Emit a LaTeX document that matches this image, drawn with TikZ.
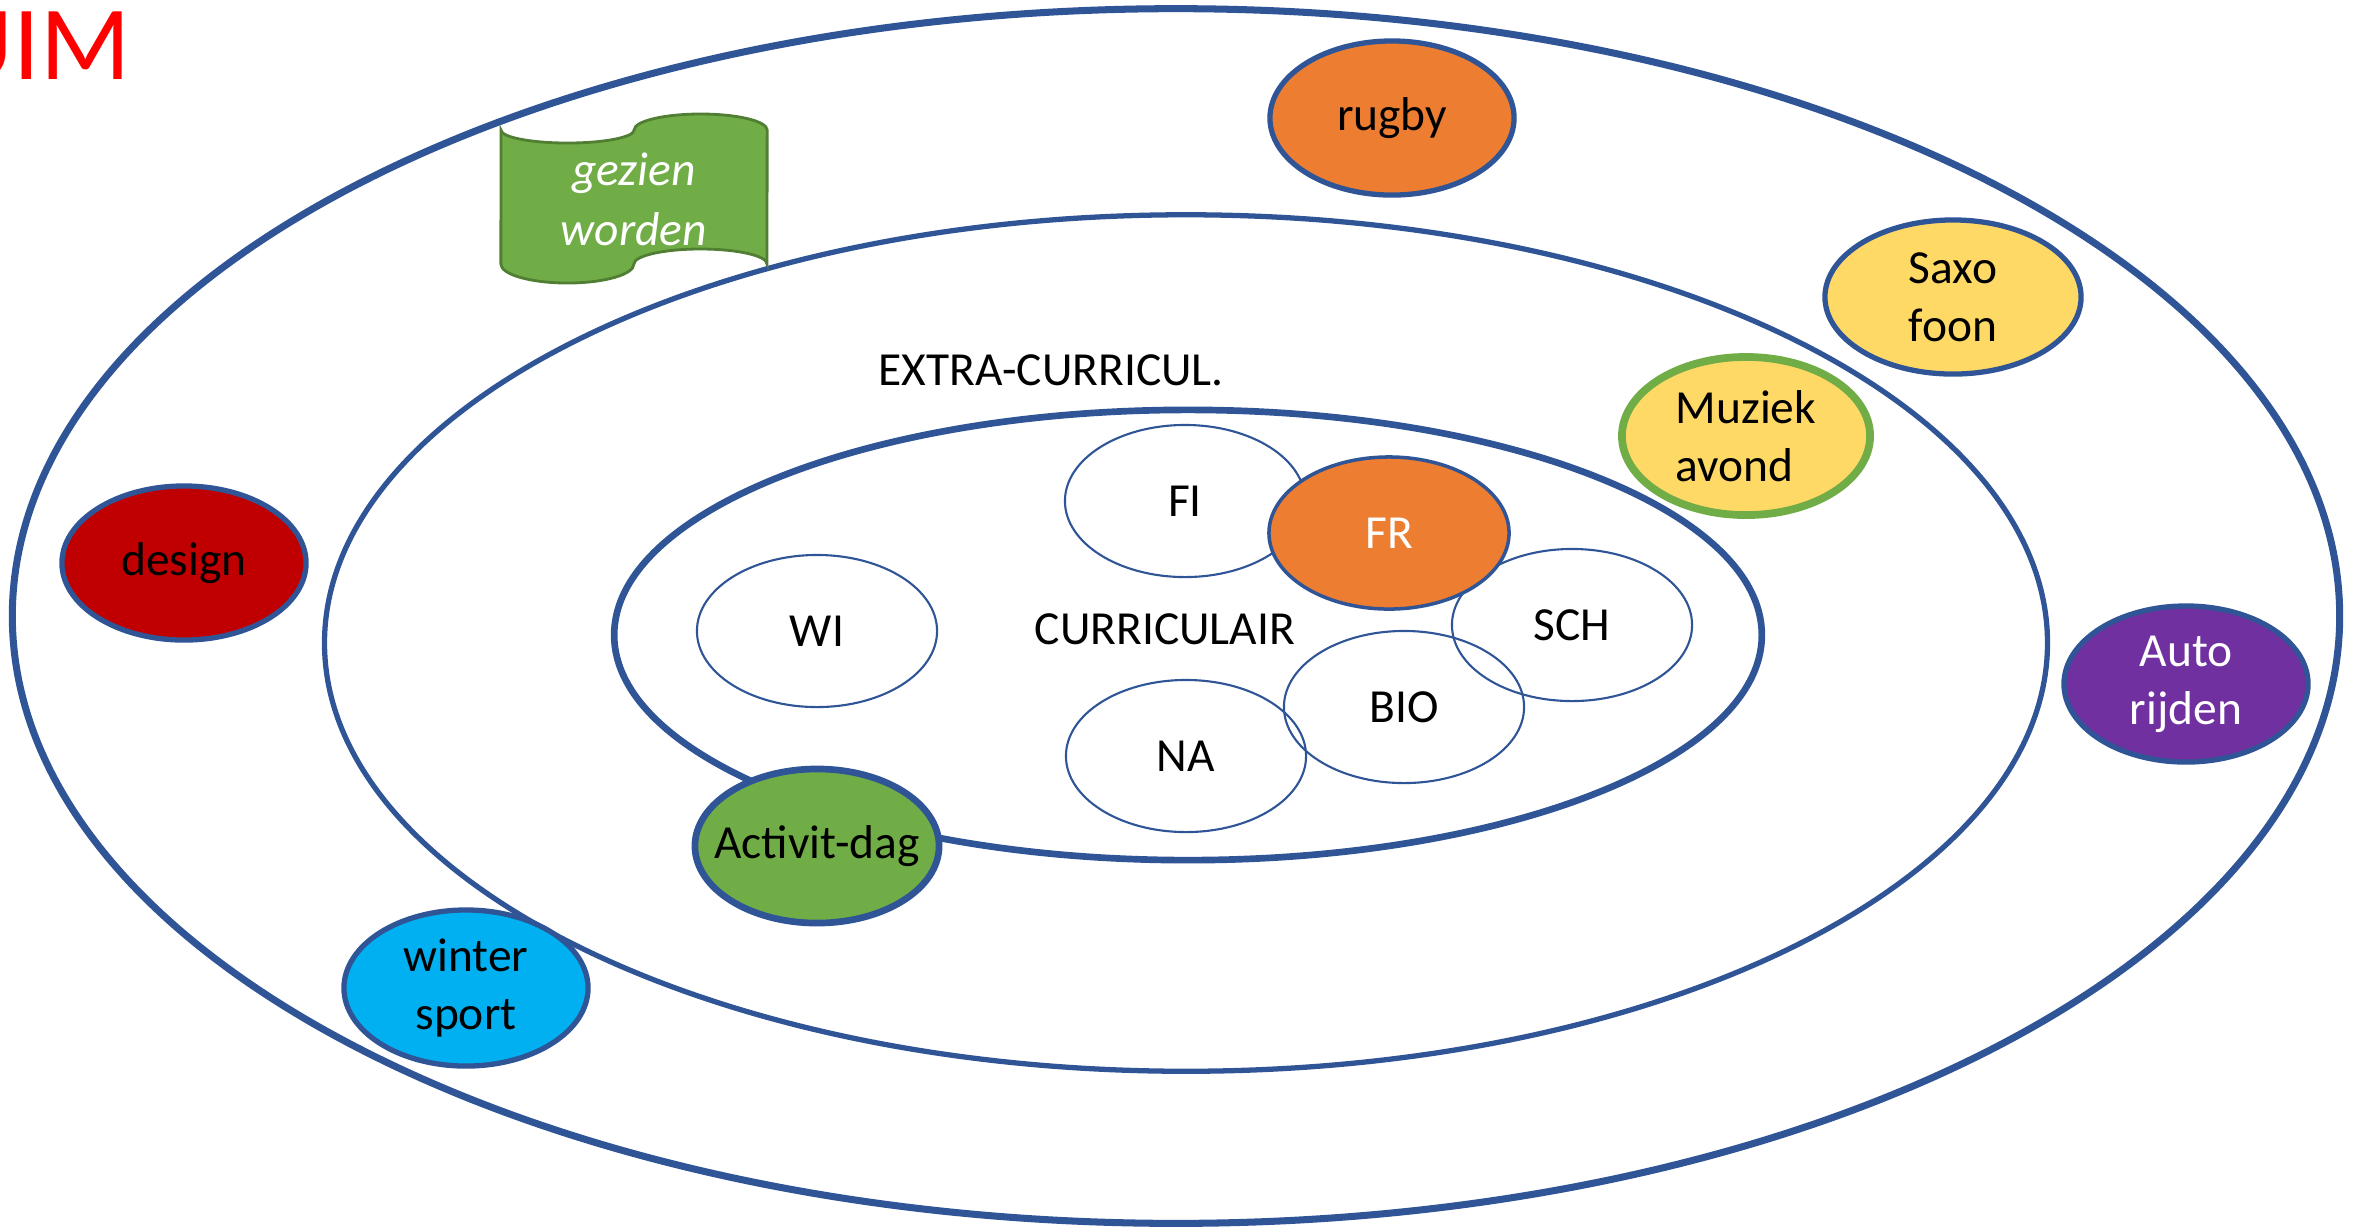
\documentclass[tikz,border=0pt]{standalone}
\usepackage{fontspec}
\setmainfont{Carlito}
\usetikzlibrary{shapes.geometric}
\definecolor{ringblue}{RGB}{47,85,151}
\definecolor{oranje}{RGB}{237,125,49}
\definecolor{geel}{RGB}{255,217,102}
\definecolor{groen}{RGB}{112,173,71}
\definecolor{donkergroen}{RGB}{80,126,50}
\definecolor{donkerrood}{RGB}{192,0,0}
\definecolor{paars}{RGB}{112,48,160}
\definecolor{lichtblauw}{RGB}{0,176,240}
\tikzstyle{ring}=[ellipse, draw=ringblue, inner sep=0pt]
\tikzstyle{vak}=[ellipse, draw=ringblue, line width=0.6pt, inner sep=0pt, minimum width=2.4cm, minimum height=1.52cm]
\tikzstyle{activiteit}=[ellipse, draw=ringblue, line width=1.5pt, inner sep=0pt, align=center, minimum width=2.44cm, minimum height=1.54cm]

\begin{document}
\begin{tikzpicture}[x=0.01cm, y=-0.01cm, every node/.append style={font=\fontsize{13.5}{16.5}\selectfont}]
        \useasboundingbox (0,0) rectangle (2361,1226);

        % Ringen
        \node[ring, line width=2pt, minimum width=23.26cm, minimum height=12.14cm] (school) at (1176,616) {};
        \node[ring, line width=1.5pt, minimum width=17.22cm, minimum height=8.56cm] (extra) at (1186,643) {};
        \node[ring, line width=1.9pt, minimum width=11.47cm, minimum height=4.5cm] (curr) at (1188,635) {};

        \node[text=red, font=\fontsize{30}{36}\selectfont, anchor=base east, inner sep=0pt] (titel) at (131,79) {UIM};
        \node (extratekst) at (1051,370) {EXTRA-CURRICUL.};
        \node (currtekst) at (1165,629) {CURRICULAIR};

        % Vakken
        \node[vak] (FI) at (1185,501) {FI};
        \node[vak] (WI) at (817,631) {WI};
        \node[vak] (SCH) at (1572,625) {SCH};
        \node[vak] (BIO) at (1404,707) {BIO};
        \node[vak] (NA) at (1186,756) {NA};
        \node[vak, fill=oranje, text=white, line width=1pt] (FR) at (1389,533) {FR};

        % Activiteiten
        \node[activiteit, fill=groen, line width=1.9pt, label=center:Activit-dag] (act) at (817,846) {};
        \node[activiteit, fill=oranje] (rugby) at (1392,118) {rugby};
        \node[activiteit, fill=geel, minimum width=2.56cm] (saxo) at (1953,297) {Saxo\\foon};
        \node[activiteit, fill=geel, draw=groen, line width=2.2pt, align=left, minimum width=2.48cm, minimum height=1.58cm] (muziek) at (1746,436) {Muziek\\avond};
        \node[activiteit, fill=donkerrood] (design) at (184,563) {design};
        \node[activiteit, fill=paars, text=white, minimum height=1.56cm] (auto) at (2186,684) {Auto\\rijden};
        \node[activiteit, fill=lichtblauw, minimum height=1.56cm] (winter) at (466,988) {winter\\sport};

        % Vlag
        \draw[donkergroen, fill=groen, line width=0.8pt] (501,130)
            arc[start angle=180, end angle=360, x radius=0.665cm, y radius=0.13cm]
            arc[start angle=180, end angle=0, x radius=0.665cm, y radius=0.16cm]
            -- (767,264)
            arc[start angle=0, end angle=180, x radius=0.665cm, y radius=0.15cm]
            arc[start angle=360, end angle=180, x radius=0.665cm, y radius=0.19cm]
            -- cycle;
        \node[text=white, align=center, inner sep=0pt, font=\fontsize{13.5}{17}\selectfont\itshape] (gezien) at (634,199) {gezien\\worden};
\end{tikzpicture}
\end{document}
